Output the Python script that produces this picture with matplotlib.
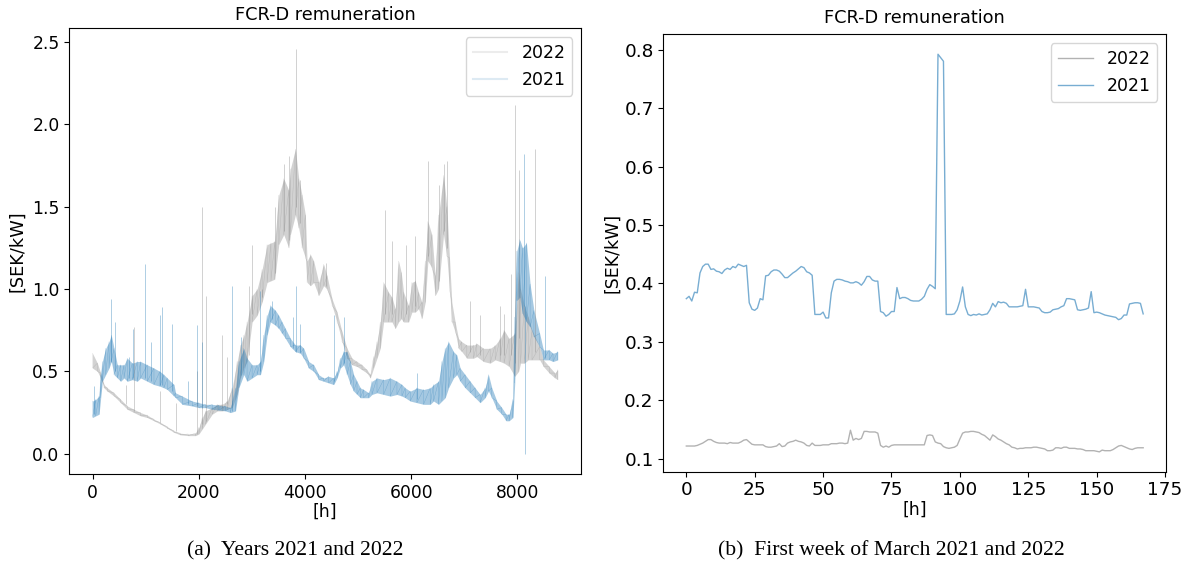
import numpy as np
import matplotlib
matplotlib.use("Agg")
import matplotlib.pyplot as plt

h22 = [0, 92, 154, 217, 279, 405, 530, 655, 780, 906, 1031, 1157, 1282, 1407, 1533, 1650,
       1800, 1940, 2003, 2066, 2128, 2253, 2350, 2441, 2535, 2629, 2723, 2786, 2850, 2910,
       3005, 3099, 3193, 3287, 3360, 3431, 3507, 3601, 3695, 3726, 3820, 3883, 3945, 4008,
       4040, 4103, 4165, 4259, 4353, 4416, 4510, 4604, 4698, 4792, 4886, 4980, 5074, 5168,
       5230, 5293, 5356, 5418, 5481, 5575, 5638, 5700, 5763, 5813, 5857, 5951, 6014, 6077,
       6139, 6202, 6265, 6315, 6390, 6452, 6515, 6609, 6671, 6721, 6765, 6828, 6890, 6953,
       7048, 7173, 7236, 7361, 7487, 7581, 7674, 7749, 7843, 7950, 8023, 8059, 8130, 8203,
       8275, 8419, 8490, 8599, 8707, 8759]
up22 = [0.61, 0.55, 0.49, 0.42, 0.40, 0.37, 0.33, 0.29, 0.27, 0.25, 0.235, 0.21, 0.19, 0.165,
        0.14, 0.125, 0.12, 0.125, 0.16, 0.22, 0.26, 0.28, 0.30, 0.30, 0.32, 0.40, 0.56, 0.66,
        0.72, 0.80, 0.96, 1.00, 1.12, 1.27, 1.28, 1.29, 1.57, 1.67, 1.60, 1.73, 1.85, 1.67,
        1.57, 1.45, 1.17, 1.21, 1.17, 1.04, 1.15, 1.08, 0.94, 0.86, 0.74, 0.64, 0.58, 0.56,
        0.54, 0.51, 0.48, 0.59, 0.68, 0.80, 1.04, 0.98, 0.95, 0.88, 1.17, 1.10, 0.98, 0.90,
        1.04, 1.05, 0.98, 0.92, 1.17, 1.41, 1.33, 1.08, 1.45, 1.69, 1.50, 1.19, 0.92, 0.80,
        0.70, 0.68, 0.66, 0.66, 0.67, 0.64, 0.64, 0.66, 0.70, 0.75, 0.70, 0.73, 1.10, 1.00,
        0.90, 0.83, 0.75, 0.65, 0.57, 0.53, 0.49, 0.51]
lo22 = [0.52, 0.50, 0.46, 0.40, 0.38, 0.35, 0.31, 0.27, 0.25, 0.23, 0.22, 0.20, 0.18, 0.155,
        0.13, 0.115, 0.11, 0.11, 0.12, 0.15, 0.18, 0.24, 0.26, 0.26, 0.27, 0.28, 0.36, 0.46,
        0.52, 0.56, 0.80, 0.84, 0.92, 1.04, 1.05, 1.06, 1.27, 1.33, 1.25, 1.33, 1.45, 1.37,
        1.25, 1.19, 1.04, 1.02, 1.04, 0.96, 1.02, 1.00, 0.90, 0.80, 0.68, 0.58, 0.54, 0.53,
        0.51, 0.49, 0.46, 0.52, 0.58, 0.64, 0.80, 0.80, 0.80, 0.76, 0.80, 0.82, 0.80, 0.80,
        0.86, 0.86, 0.88, 0.82, 0.92, 1.17, 1.13, 0.96, 1.00, 1.33, 1.20, 1.00, 0.80, 0.74,
        0.64, 0.62, 0.58, 0.58, 0.59, 0.56, 0.55, 0.57, 0.56, 0.55, 0.53, 0.47, 0.50, 0.55,
        0.55, 0.57, 0.57, 0.57, 0.53, 0.49, 0.46, 0.45]
spk22_h = [637, 780, 1263, 1564, 1972, 2066, 2141, 2441, 2535, 2946, 3005, 3190, 3440, 3598,
           3695, 3835, 3900, 4390, 5513, 5640, 5907, 6077, 6311, 6515, 6620, 6671, 7098, 7298,
           7674, 7749, 7880, 7960, 8023, 8333]
spk22_lo = [0.30, 0.26, 0.19, 0.14, 0.12, 0.18, 0.20, 0.28, 0.30, 0.60, 0.85, 0.95, 1.10, 1.35,
            1.30, 1.50, 1.40, 1.02, 0.85, 0.85, 0.85, 0.90, 1.20, 1.05, 1.35, 1.25, 0.62, 0.60,
            0.60, 0.60, 0.60, 0.55, 0.70, 0.62]
spk22_hi = [0.42, 0.77, 0.38, 0.31, 0.50, 1.50, 0.96, 0.72, 0.59, 1.02, 1.27, 1.00, 1.50, 1.76,
            1.81, 2.46, 1.66, 1.16, 1.48, 1.29, 1.27, 1.32, 1.78, 1.63, 1.76, 1.78, 0.93, 0.84,
            0.90, 0.85, 1.09, 2.12, 1.72, 1.85]

h21 = [0, 60, 123, 154, 185, 248, 311, 354, 405, 467, 530, 593, 655, 750, 843, 906, 1031,
       1157, 1269, 1345, 1407, 1533, 1564, 1690, 1877, 2003, 2128, 2253, 2379, 2504, 2598,
       2692, 2755, 2848, 2910, 3005, 3099, 3162, 3224, 3287, 3350, 3444, 3507, 3569, 3632,
       3726, 3820, 3914, 3977, 4071, 4165, 4259, 4353, 4447, 4541, 4604, 4666, 4729, 4792,
       4855, 4917, 4980, 5042, 5105, 5199, 5262, 5356, 5481, 5606, 5732, 5826, 5888, 5982,
       6108, 6233, 6358, 6421, 6515, 6578, 6640, 6703, 6797, 6859, 6922, 7016, 7110, 7204,
       7298, 7392, 7455, 7518, 7612, 7706, 7787, 7843, 7915, 7950, 7987, 8045, 8096, 8170,
       8239, 8311, 8419, 8490, 8599, 8671, 8759]
up21 = [0.32, 0.33, 0.35, 0.48, 0.56, 0.64, 0.68, 0.72, 0.64, 0.54, 0.54, 0.54, 0.58, 0.55,
        0.56, 0.56, 0.54, 0.52, 0.50, 0.48, 0.46, 0.42, 0.37, 0.35, 0.32, 0.31, 0.30, 0.30,
        0.295, 0.29, 0.28, 0.40, 0.56, 0.64, 0.58, 0.54, 0.54, 0.56, 0.72, 0.84, 0.90, 0.87,
        0.84, 0.80, 0.76, 0.70, 0.66, 0.66, 0.64, 0.56, 0.54, 0.48, 0.46, 0.47, 0.46, 0.50,
        0.58, 0.62, 0.62, 0.56, 0.48, 0.44, 0.40, 0.39, 0.37, 0.44, 0.46, 0.45, 0.46, 0.44,
        0.42, 0.40, 0.38, 0.40, 0.39, 0.40, 0.42, 0.44, 0.56, 0.64, 0.68, 0.62, 0.60, 0.52,
        0.48, 0.44, 0.40, 0.36, 0.40, 0.48, 0.40, 0.32, 0.28, 0.24, 0.24, 0.33, 0.83, 1.23,
        1.30, 1.25, 1.28, 1.03, 0.87, 0.73, 0.63, 0.63, 0.61, 0.62]
lo21 = [0.22, 0.23, 0.24, 0.34, 0.44, 0.48, 0.52, 0.56, 0.48, 0.46, 0.44, 0.46, 0.44, 0.45,
        0.44, 0.46, 0.44, 0.42, 0.41, 0.40, 0.39, 0.35, 0.34, 0.30, 0.29, 0.28, 0.28, 0.27,
        0.265, 0.26, 0.25, 0.26, 0.40, 0.48, 0.44, 0.46, 0.48, 0.48, 0.56, 0.72, 0.80, 0.78,
        0.76, 0.73, 0.70, 0.65, 0.62, 0.61, 0.58, 0.52, 0.50, 0.45, 0.44, 0.43, 0.42, 0.46,
        0.52, 0.54, 0.48, 0.42, 0.38, 0.36, 0.34, 0.34, 0.34, 0.36, 0.37, 0.36, 0.35, 0.36,
        0.35, 0.34, 0.32, 0.31, 0.30, 0.30, 0.32, 0.30, 0.32, 0.34, 0.40, 0.46, 0.48, 0.44,
        0.40, 0.37, 0.34, 0.31, 0.34, 0.38, 0.34, 0.27, 0.24, 0.20, 0.20, 0.22, 0.43, 0.93,
        0.95, 0.85, 0.80, 0.77, 0.71, 0.65, 0.57, 0.57, 0.56, 0.57]
spk21_h = [29, 342, 420, 690, 770, 987, 1100, 1269, 1301, 1501, 1803, 1972, 2066, 2627, 2805,
           3162, 3381, 3770, 3830, 3914, 4541, 4729, 6108, 8131, 8145, 8524]
spk21_lo = [0.24, 0.56, 0.50, 0.46, 0.46, 0.46, 0.44, 0.42, 0.42, 0.38, 0.30, 0.29, 0.28, 0.26,
            0.48, 0.50, 0.82, 0.64, 0.62, 0.62, 0.44, 0.55, 0.33, 0.90, 0.00, 0.58]
spk21_hi = [0.41, 0.94, 0.80, 0.59, 0.76, 1.15, 0.68, 0.84, 0.89, 0.79, 0.44, 0.78, 0.68, 1.02,
            0.71, 0.99, 0.93, 0.83, 1.02, 0.79, 0.84, 0.83, 0.49, 1.82, 0.90, 1.08]

# ---- right panel: first week of March, hourly ----
week22 = [0.122, 0.122, 0.122, 0.122, 0.123, 0.125, 0.127, 0.130, 0.133, 0.133,
          0.130, 0.128, 0.127, 0.127, 0.127, 0.126, 0.128, 0.127, 0.127, 0.127,
          0.129, 0.132, 0.133, 0.129, 0.125, 0.124, 0.124, 0.124, 0.124, 0.121,
          0.120, 0.120, 0.121, 0.122, 0.126, 0.121, 0.122, 0.127, 0.129, 0.130,
          0.132, 0.130, 0.129, 0.127, 0.123, 0.122, 0.127, 0.123, 0.123, 0.123,
          0.124, 0.124, 0.124, 0.126, 0.126, 0.126, 0.127, 0.127, 0.126, 0.127,
          0.149, 0.132, 0.135, 0.133, 0.135, 0.147, 0.147, 0.146, 0.146, 0.146,
          0.144, 0.123, 0.120, 0.122, 0.120, 0.123, 0.124, 0.124, 0.124, 0.124,
          0.124, 0.124, 0.124, 0.124, 0.124, 0.124, 0.124, 0.124, 0.140, 0.141,
          0.140, 0.129, 0.127, 0.126, 0.121, 0.119, 0.118, 0.119, 0.120, 0.123,
          0.134, 0.144, 0.146, 0.146, 0.147, 0.147, 0.146, 0.145, 0.142, 0.140,
          0.136, 0.132, 0.141, 0.138, 0.134, 0.132, 0.129, 0.126, 0.124, 0.120,
          0.119, 0.117, 0.118, 0.118, 0.119, 0.119, 0.119, 0.120, 0.120, 0.119,
          0.118, 0.117, 0.114, 0.114, 0.115, 0.119, 0.119, 0.118, 0.120, 0.120,
          0.118, 0.118, 0.118, 0.117, 0.117, 0.116, 0.114, 0.114, 0.114, 0.114,
          0.113, 0.112, 0.115, 0.114, 0.114, 0.114, 0.116, 0.119, 0.122, 0.123,
          0.121, 0.119, 0.117, 0.116, 0.118, 0.119, 0.119, 0.119]
week21 = [0.374, 0.378, 0.370, 0.385, 0.384, 0.418, 0.429, 0.433, 0.433, 0.424,
          0.425, 0.421, 0.420, 0.417, 0.423, 0.426, 0.424, 0.429, 0.427, 0.433,
          0.431, 0.429, 0.431, 0.367, 0.356, 0.354, 0.358, 0.374, 0.372, 0.413,
          0.414, 0.420, 0.423, 0.423, 0.421, 0.416, 0.410, 0.410, 0.414, 0.418,
          0.421, 0.425, 0.429, 0.427, 0.420, 0.418, 0.414, 0.347, 0.347, 0.347,
          0.351, 0.341, 0.341, 0.384, 0.404, 0.407, 0.407, 0.406, 0.404, 0.403,
          0.401, 0.401, 0.403, 0.401, 0.397, 0.403, 0.412, 0.412, 0.406, 0.404,
          0.404, 0.352, 0.350, 0.344, 0.347, 0.352, 0.352, 0.393, 0.374, 0.376,
          0.376, 0.374, 0.371, 0.370, 0.370, 0.370, 0.373, 0.378, 0.390, 0.398,
          0.395, 0.391, 0.792, 0.786, 0.780, 0.347, 0.347, 0.347, 0.348, 0.355,
          0.370, 0.394, 0.360, 0.347, 0.345, 0.347, 0.346, 0.348, 0.346, 0.347,
          0.348, 0.355, 0.366, 0.360, 0.369, 0.367, 0.368, 0.366, 0.360, 0.360,
          0.360, 0.360, 0.361, 0.362, 0.390, 0.360, 0.360, 0.360, 0.359, 0.358,
          0.352, 0.350, 0.350, 0.351, 0.355, 0.356, 0.357, 0.360, 0.362, 0.374,
          0.374, 0.373, 0.372, 0.355, 0.354, 0.355, 0.356, 0.358, 0.386, 0.350,
          0.351, 0.350, 0.348, 0.346, 0.345, 0.344, 0.343, 0.342, 0.338, 0.340,
          0.346, 0.346, 0.365, 0.366, 0.367, 0.367, 0.366, 0.348]

GRAY = "gray"
BLUE = "#1f77b4"


def zigzag(h, up, lo):
    # alternate between the read upper and lower edge so the band looks like dense hourly noise
    x = np.repeat(np.asarray(h, float), 2)
    y = np.column_stack([up, lo]).ravel()
    return x, y


fig = plt.figure(figsize=(11.92, 5.67), dpi=100)
ax1 = fig.add_axes([0.0581, 0.164, 0.4293, 0.786])
ax2 = fig.add_axes([0.5566, 0.168, 0.4216, 0.7714])

ax1.fill_between(h22, lo22, up22, color=GRAY, alpha=0.35, lw=0)
x, y = zigzag(h22, up22, lo22)
ax1.plot(x, y, color=GRAY, lw=0.3, alpha=0.35, label="2022")
ax1.vlines(spk22_h, spk22_lo, spk22_hi, color=GRAY, lw=0.5, alpha=0.5)

ax1.fill_between(h21, lo21, up21, color=BLUE, alpha=0.4, lw=0)
x, y = zigzag(h21, up21, lo21)
ax1.plot(x, y, color=BLUE, lw=0.3, alpha=0.4, label="2021")
ax1.vlines(spk21_h, spk21_lo, spk21_hi, color=BLUE, lw=0.5, alpha=0.5)

ax1.set_xticks([0, 2000, 4000, 6000, 8000])
ax1.set_yticks([0.0, 0.5, 1.0, 1.5, 2.0, 2.5])
ax1.tick_params(labelsize=12.3)
ax1.set_title("FCR-D remuneration", fontsize=12.8)
ax1.set_xlabel("[h]", fontsize=12.5, labelpad=1)
ax1.set_ylabel("[SEK/kW]", fontsize=12.8, labelpad=4)
leg = ax1.legend(fontsize=12.5, loc="upper right")
for hnd in leg.legend_handles:
    hnd.set_alpha(0.15)
    hnd.set_linewidth(1.5)

hours = np.arange(len(week22))
ax2.plot(hours, week22, color=GRAY, lw=1.0, alpha=0.6, label="2022")
ax2.plot(hours, week21, color=BLUE, lw=1.0, alpha=0.6, label="2021")
ax2.set_xticks([0, 25, 50, 75, 100, 125, 150, 175])
ax2.tick_params(labelsize=13.3)
ax2.set_title("FCR-D remuneration", fontsize=12.8, pad=8)
ax2.set_xlabel("[h]", fontsize=12.5, labelpad=1)
ax2.set_ylabel("[SEK/kW]", fontsize=12.5, labelpad=2)
ax2.legend(fontsize=12.5, loc="upper right")

fig.text(0.2475, 0.02, "(a)  Years 2021 and 2022", family="Liberation Serif",
         fontsize=15.6, ha="center", va="baseline")
fig.text(0.748, 0.02, "(b)  First week of March 2021 and 2022", family="Liberation Serif",
         fontsize=15.6, ha="center", va="baseline")

fig.savefig("out.png", dpi=100)
